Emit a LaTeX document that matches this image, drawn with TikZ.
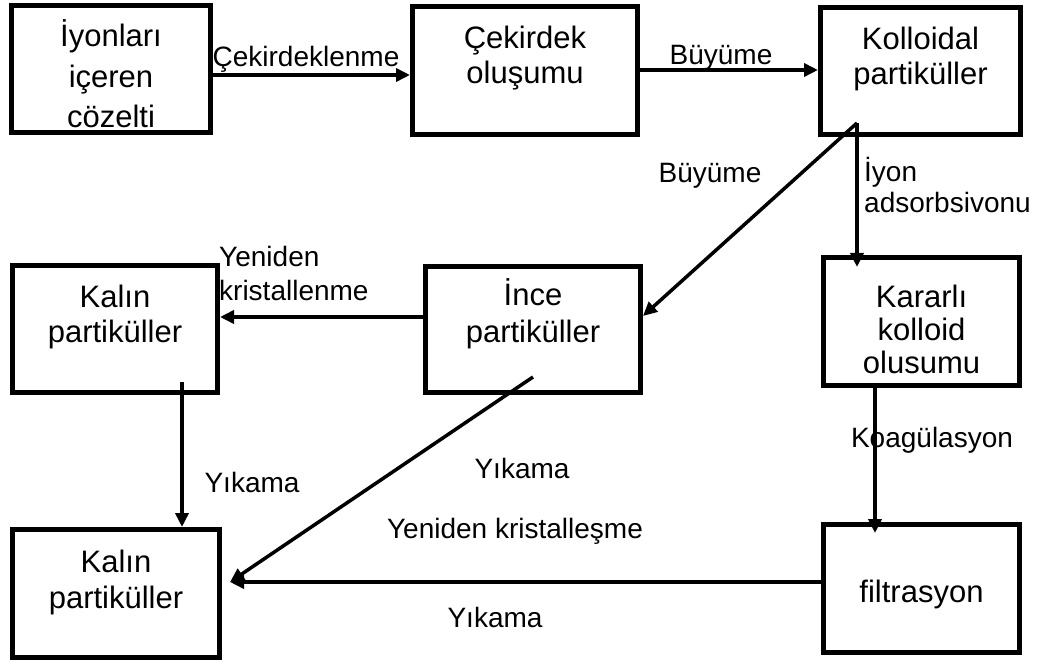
\documentclass[tikz,border=0pt]{standalone}
\usepackage{fontspec}
\setmainfont{Liberation Sans}
\usetikzlibrary{arrows.meta,calc}
\begin{document}
\begin{tikzpicture}[x=1pt,y=-1pt,
  box/.style={draw,line width=5pt,inner sep=0pt},
  boxtext/.style={font=\fontsize{31}{35}\selectfont,align=center,anchor=base,inner sep=0pt},
  lbl/.style={font=\fontsize{28}{34}\selectfont,inner sep=0pt,anchor=base},
  arr/.style={line width=3.5pt,-{Triangle[length=14pt,width=13pt]}}]
\useasboundingbox (0,0) rectangle (1050,663);
% boxes
\node[box,minimum width=199pt,minimum height=127pt] (b1) at (111,69) {};
\node[box,minimum width=225pt,minimum height=128pt] (b2) at (525,70.5) {};
\node[box,minimum width=200pt,minimum height=127pt] (b3) at (920.5,71) {};
\node[box,minimum width=205pt,minimum height=127pt] (k1) at (115,329) {};
\node[box,minimum width=215pt,minimum height=126pt] (ince) at (533,329.5) {};
\node[box,minimum width=196pt,minimum height=128pt] (kar) at (921.5,321.5) {};
\node[box,minimum width=207pt,minimum height=128pt] (k2) at (116,593.5) {};
\node[box,minimum width=196pt,minimum height=128pt] (fil) at (921.5,588.5) {};
% box texts (anchor base = baseline of last line)
\node[boxtext,font=\fontsize{31}{40.5}\selectfont] (b1t) at (111,128) {İyonları\\içeren\\cözelti};
\node[boxtext] (b2t) at (525,84) {Çekirdek\\oluşumu};
\node[boxtext] (b3t) at (920.5,85) {Kolloidal\\partiküller};
\node[boxtext] (k1t) at (115,342) {Kalın\\partiküller};
\node[boxtext,font=\fontsize{31}{37}\selectfont] (incet) at (533,342) {İnce\\partiküller};
\node[boxtext,font=\fontsize{31}{33}\selectfont] (kart) at (921.5,373) {Kararlı\\kolloid\\olusumu};
\node[boxtext,font=\fontsize{31}{36}\selectfont] (k2t) at (116,608) {Kalın\\partiküller};
\node[boxtext] (filt) at (921.5,602) {filtrasyon};
% anchor points inside boxes
\coordinate (s3) at (857,123);
\coordinate (s1) at (182,382);
\coordinate (si) at (533,377);
% connectors
\draw[arr] ([yshift=-6pt]b1.east) -- ([yshift=-6pt]b1.east -| b2.west);
\draw[arr] ([yshift=0.5pt]b2.east) -- ([yshift=0.5pt]b2.east -| b3.west);
\draw[arr] (s3) -- ([yshift=13.5pt]ince.east);
\draw[arr,shorten >=-12pt] (s3) -- (s3 |- kar.north);
\draw[arr] ([yshift=12.5pt]ince.west) -- ([yshift=12.5pt]ince.west -| k1.east);
\draw[arr] (s1) -- (s1 |- k2.north);
\draw[arr] (si) -- ([xshift=8pt,yshift=11.5pt]k2.east);
\draw[arr] ([yshift=6.5pt]fil.west) -- ([xshift=8pt,yshift=11.5pt]k2.east);
\draw[arr,shorten >=-11pt] ([xshift=-46.5pt]kar.south) -- ([xshift=-46.5pt]kar.south |- fil.north);
% labels
\node[lbl] (l1) at (306,67) {Çekirdeklenme};
\node[lbl] (l2) at (721,65) {Büyüme};
\node[lbl] (l3) at (710,183) {Büyüme};
\node[lbl,anchor=base west,align=left,font=\fontsize{28}{31}\selectfont] (l4) at (864,213) {İyon\\adsorbsivonu};
\node[lbl,anchor=base west,align=left] (l5) at (219,301) {Yeniden\\kristallenme};
\node[lbl] (l6) at (252,492) {Yıkama};
\node[lbl] (l7) at (522,478) {Yıkama};
\node[lbl] (l8) at (515,538) {Yeniden kristalleşme};
\node[lbl] (l9) at (495,627) {Yıkama};
\node[lbl] (l10) at (932,447) {Koagülasyon};
\end{tikzpicture}
\end{document}
